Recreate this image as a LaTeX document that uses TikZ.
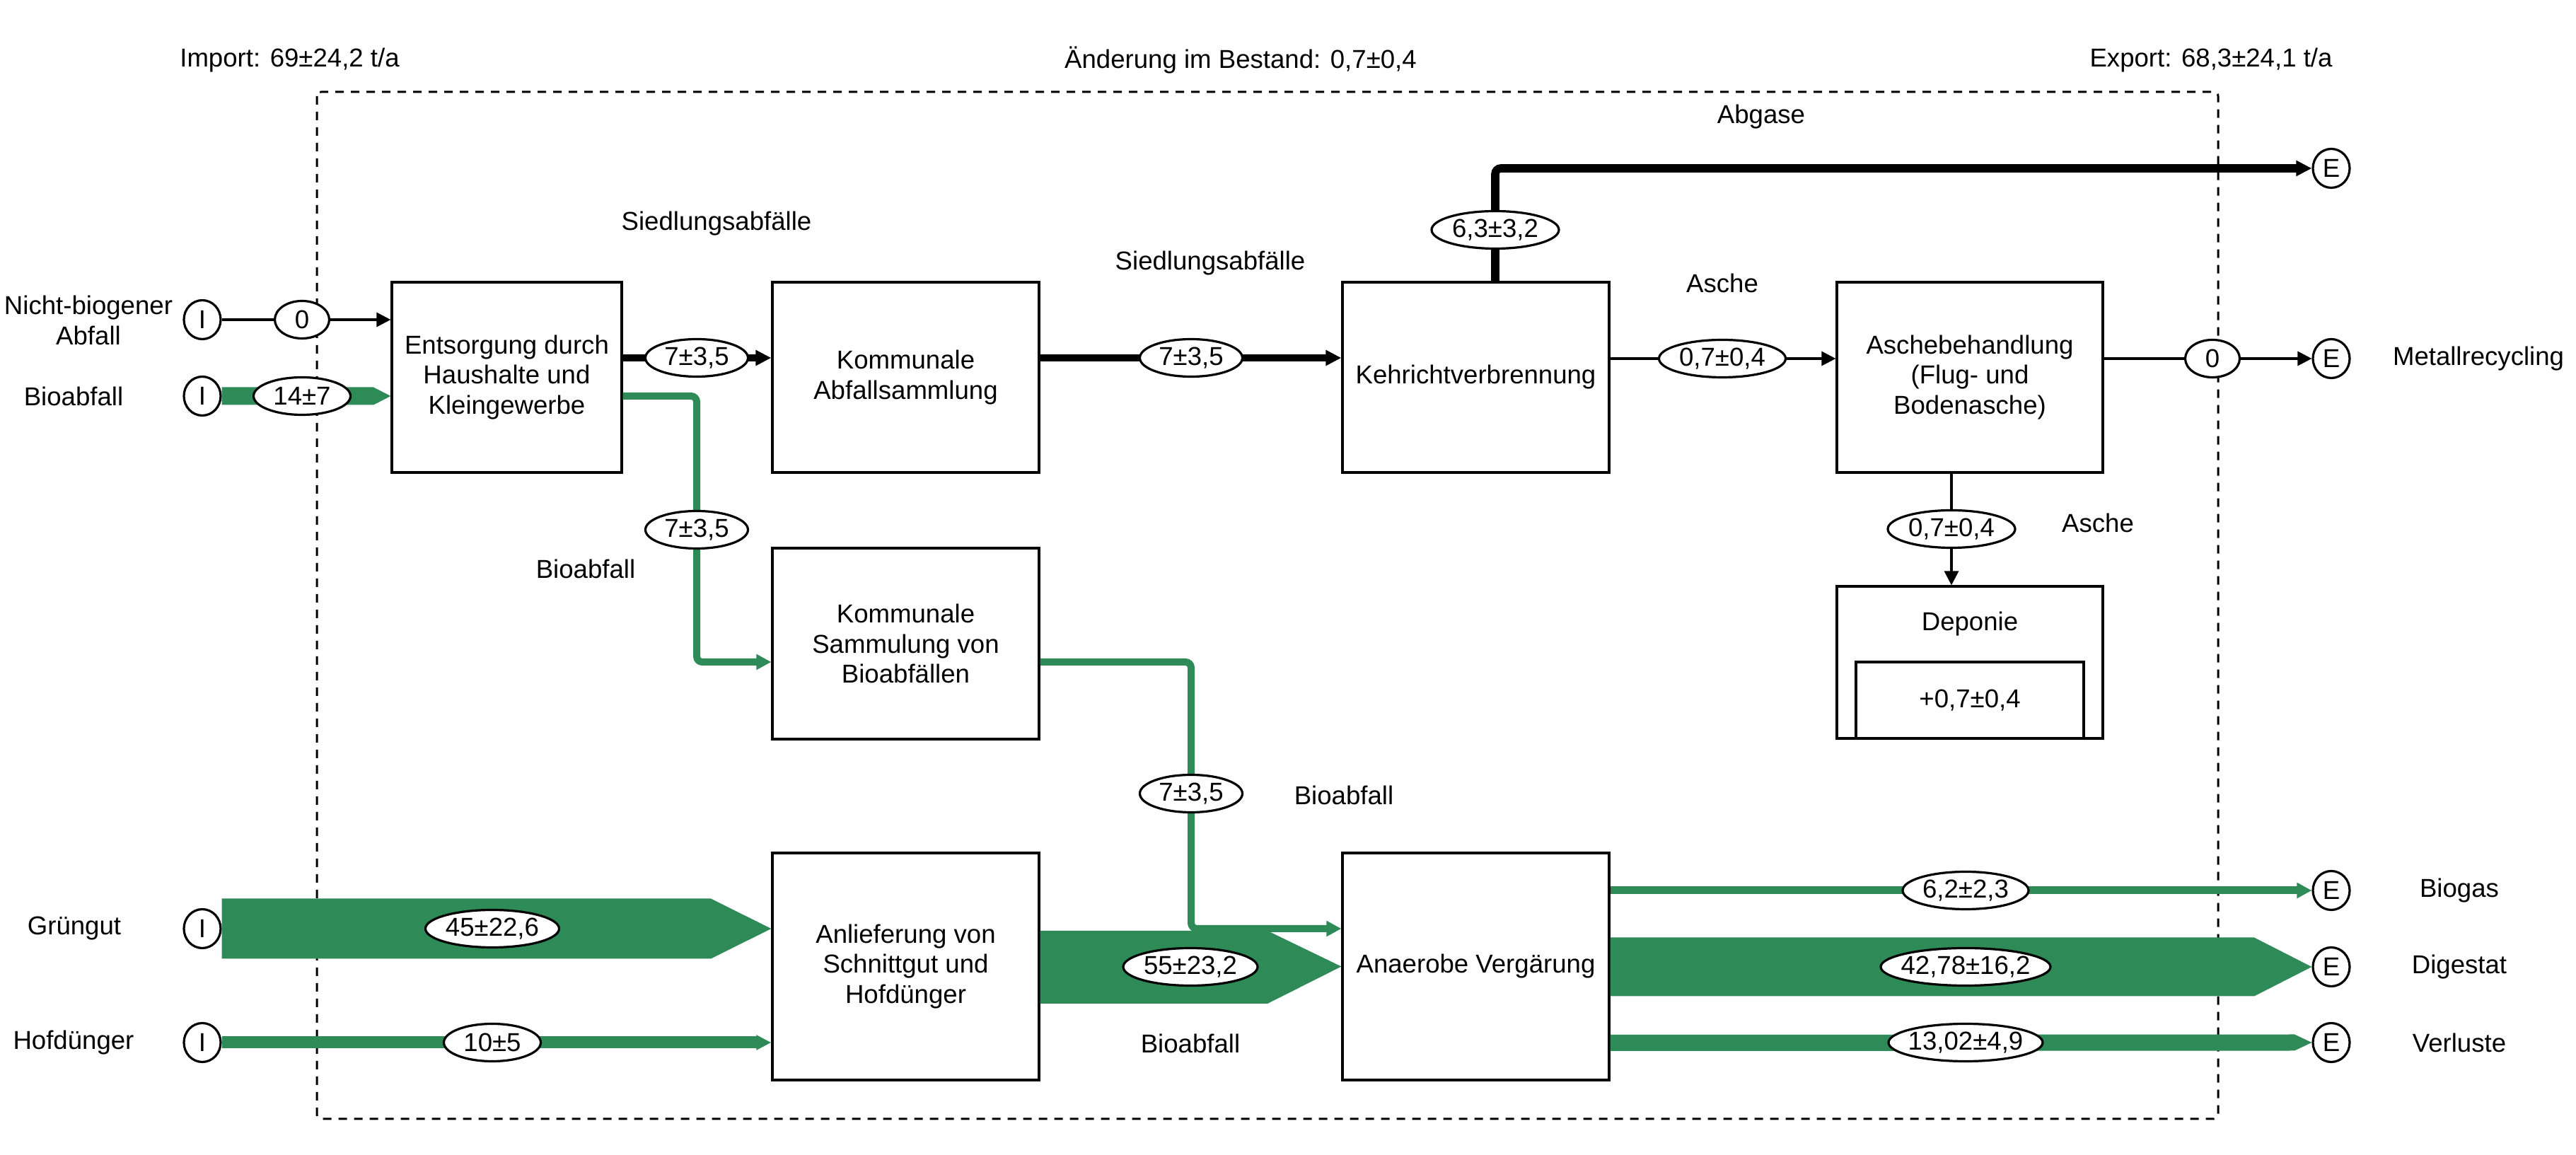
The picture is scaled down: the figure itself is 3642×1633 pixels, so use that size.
\documentclass[tikz,border=0pt]{standalone}
\usepackage{fontspec}
\setmainfont{Liberation Sans}
\usetikzlibrary{shapes.geometric,arrows.meta,calc}
\definecolor{bgreen}{RGB}{46,139,87}
\newcommand{\zw}[1]{\makebox[0pt][c]{#1}}
\begin{document}
\begin{tikzpicture}[x=0.25pt,y=-0.25pt,
  every node/.style={font=\fontsize{9.15pt}{10.6pt}\selectfont},
  box/.style={draw, line width=0.8pt, align=center, inner sep=0pt},
  lab/.style={ellipse, draw, fill=white, line width=0.8pt, inner sep=0pt, minimum height=13.25pt},
  io/.style={ellipse, draw, fill=white, line width=0.8pt, inner sep=0pt, minimum width=13pt, minimum height=13.75pt},
  thinarr/.style={line width=0.8pt, -{Triangle[length=5pt,width=5pt]}},
  thickarr/.style={line width=2.5pt, -{Triangle[length=5.5pt,width=5.25pt]}, rounded corners=2pt},
  grarr/.style={draw=bgreen, line width=2.5pt, -{Triangle[length=5.25pt,width=5.25pt]}, rounded corners=2pt},
  band/.style={fill=bgreen},
  txt/.style={inner sep=0pt, align=center},
  boundary/.style={line width=0.75pt, dash pattern=on 3pt off 2.5pt, rounded corners=1.5pt}
]
\useasboundingbox (0,0) rectangle (3642,1633);

% system boundary
\draw[boundary] (448,130) rectangle (3136,1582);

% processes
\node[box, minimum width=81.25pt, minimum height=67.25pt] (ent) at (716.5,533.5) {Entsorgung durch\\Haushalte und\\Kleingewerbe};
\node[box, minimum width=94.25pt, minimum height=67.25pt] (kas) at (1280.5,533.5) {Kommunale\\Abfallsammlung};
\node[box, minimum width=94.25pt, minimum height=67.25pt] (kvb) at (2086.5,533.5) {Kehrichtverbrennung};
\node[box, minimum width=94pt, minimum height=67.25pt] (asb) at (2785,533.5) {Aschebehandlung\\(Flug- und\\Bodenasche)};
\node[box, minimum width=94pt, minimum height=53.75pt] (dep) at (2785,936.5) {};
\node[box, minimum width=94.25pt, minimum height=67.5pt] (ksb) at (1280.5,910) {Kommunale\\Sammulung von\\Bioabfällen};
\node[box, minimum width=94.25pt, minimum height=80.25pt] (anl) at (1280.5,1366.5) {Anlieferung von\\Schnittgut und\\Hofdünger};
\node[box, minimum width=94.25pt, minimum height=80.25pt] (ana) at (2086.5,1366.5) {Anaerobe Vergärung};
\node[txt] (deptxt) at (2785,882) {Deponie};
\node[box, minimum width=80.5pt, minimum height=27pt] (lager) at (2785,990) {+0,7±0,4};

% import / export circles
\node[io] (iN) at (286,452) {I};
\node[io] (iB) at (286,560) {I};
\node[io] (iG) at (286,1313) {I};
\node[io] (iH) at (286,1474) {I};
\node[io] (eA) at (3296,238) {E};
\node[io] (eM) at (3296,507) {E};
\node[io] (eBg) at (3296,1259) {E};
\node[io] (eD) at (3296,1367) {E};
\node[io] (eV) at (3296,1474) {E};

% flows
\draw[thinarr] (iN.east) -- (iN.east -| ent.west);
\fill[band] ($(iB.east)+(0,-12.5)$) -- (528,547.5) -- ($(ent.west)+(0,26.5)$) -- (528,572.5) -- ($(iB.east)+(0,12.5)$) -- cycle;
\draw[thickarr] ($(ent.east)+(0,-27.5)$) -- ($(kas.west)+(0,-27.5)$);
\draw[thickarr] ($(kas.east)+(0,-27.5)$) -- ($(kvb.west)+(0,-27.5)$);
\draw[grarr] ($(ent.east)+(0,26.5)$) -- (985,560) -- (985,936) -- ($(ksb.west)+(0,26)$);
\draw[grarr] ($(ksb.east)+(0,26)$) -- (1684,936) -- (1684,1313) -- ($(ana.west)+(0,-53.5)$);
\fill[band] ($(iG.east)+(0,-42.5)$) -- (1005,1270.5) -- ($(anl.west)+(0,-53.5)$) -- (1005,1355.5) -- ($(iG.east)+(0,42.5)$) -- cycle;
\draw[draw=bgreen, line width=4.25pt, -{Triangle[length=5.25pt,width=5pt]}] (iH.east) -- ($(anl.west)+(0,107.5)$);
\fill[band] ($(anl.east)+(0,-50.5)$) -- (1792,1316) -- (ana.west) -- (1792,1419) -- ($(anl.east)+(0,52.5)$) -- cycle;
\draw[grarr, line width=2.75pt] ($(ana.east)+(0,-107.5)$) -- (eBg.west);
\fill[band] ($(ana.east)+(0,-41)$) -- (3187,1325.5) -- (eD.west) -- (3187,1408.5) -- ($(ana.east)+(0,42)$) -- cycle;
\fill[band] ($(ana.east)+(0,96.5)$) -- (3244,1462.5) -- (eV.west) -- (3244,1485.5) -- ($(ana.east)+(0,119.5)$) -- cycle;
\draw[thickarr, line width=2.9pt] ($(kvb.north)+(27.5,0)$) |- (eA.west);
\draw[thinarr] ($(kvb.east)+(0,-26.5)$) -- ($(asb.west)+(0,-26.5)$);
\draw[thinarr] ($(asb.east)+(0,-26.5)$) -- (eM.west);
\draw[thinarr] ($(asb.south)+(-26,0)$) -- ($(dep.north)+(-26,0)$);

% flow values
\node[lab, minimum width=19.25pt] (v1) at (427,452) {\zw{0}};
\node[lab, minimum width=34.25pt] (v2) at (427,560) {\zw{14±7}};
\node[lab, minimum width=36.25pt] (v3) at (985,506) {\zw{7±3,5}};
\node[lab, minimum width=36.25pt] (v4) at (1684,506) {\zw{7±3,5}};
\node[lab, minimum width=36.25pt] (v5) at (985,749) {\zw{7±3,5}};
\node[lab, minimum width=36.25pt] (v6) at (1684,1122) {\zw{7±3,5}};
\node[lab, minimum width=47.25pt] (v7) at (696,1313) {\zw{45±22,6}};
\node[lab, minimum width=34.25pt] (v8) at (696,1474) {\zw{10±5}};
\node[lab, minimum width=47.5pt] (v9) at (1683,1367) {\zw{55±23,2}};
\node[lab, minimum width=44.5pt] (v10) at (2779,1259) {\zw{6,2±2,3}};
\node[lab, minimum width=60pt] (v11) at (2779,1367) {\zw{42,78±16,2}};
\node[lab, minimum width=54.5pt] (v12) at (2779,1474) {\zw{13,02±4,9}};
\node[lab, minimum width=45pt] (v13) at (2114,325) {\zw{6,3±3,2}};
\node[lab, minimum width=44.75pt] (v14) at (2435,507) {\zw{0,7±0,4}};
\node[lab, minimum width=19.25pt] (v15) at (3128,507) {\zw{0}};
\node[lab, minimum width=45pt] (v16) at (2759,748) {\zw{0,7±0,4}};

% texts
\node[txt] (t1) at (409.5,85) {Import: 69±24,2 t/a};
\node[txt] (t2) at (1754,85) {Änderung im Bestand: 0,7±0,4};
\node[txt] (t3) at (3126,85) {Export: 68,3±24,1 t/a};
\node[txt] (t4) at (2490,165) {Abgase};
\node[txt] (t5) at (1013,316) {Siedlungsabfälle};
\node[txt] (t6) at (1711,372) {Siedlungsabfälle};
\node[txt] (t7) at (2435,400) {Asche};
\node[txt] (t8) at (2966,739) {Asche};
\node[txt] (t9) at (828,804) {Bioabfall};
\node[txt] (t10) at (1900,1124) {Bioabfall};
\node[txt] (t11) at (1683,1475) {Bioabfall};
\node[txt] (t12) at (3504,507) {Metallrecycling};
\node[txt] (t13) at (3477,1259) {Biogas};
\node[txt] (t14) at (3477,1367) {Digestat};
\node[txt] (t15) at (3477,1474) {Verluste};
\node[txt] (t16) at (125,453) {Nicht-biogener\\Abfall};
\node[txt] (t17) at (104,560) {Bioabfall};
\node[txt] (t18) at (105,1313) {Grüngut};
\node[txt] (t19) at (104,1474) {Hofdünger};
\end{tikzpicture}
\end{document}
